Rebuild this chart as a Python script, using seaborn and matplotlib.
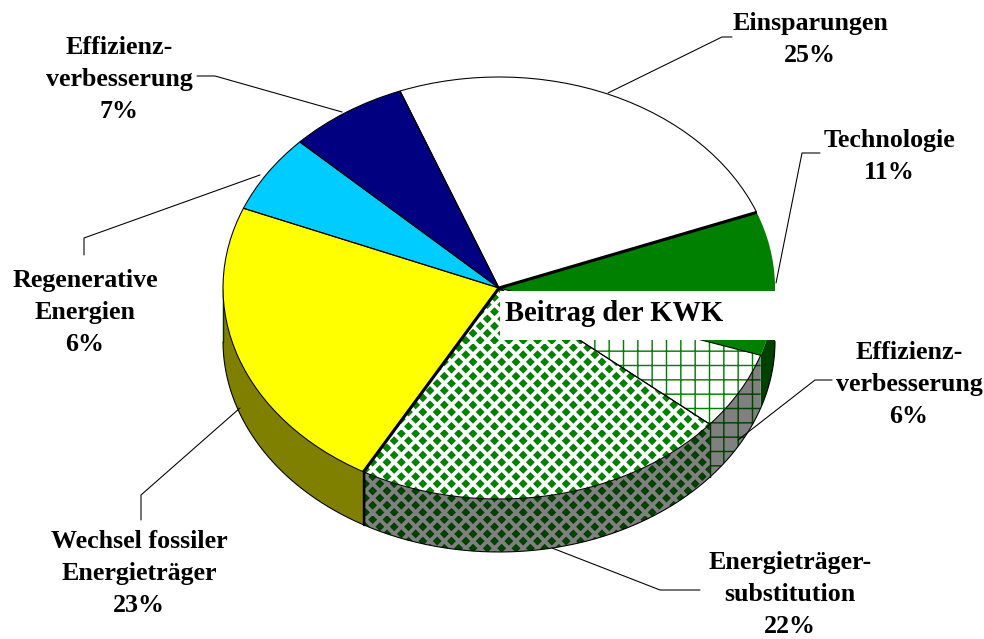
import warnings
import numpy as np
import matplotlib
matplotlib.use('Agg')
import matplotlib.pyplot as plt
from matplotlib import hatch as mhatch
from matplotlib.path import Path
from matplotlib.patches import Rectangle
import seaborn as sns

warnings.filterwarnings('ignore')

labels = ['Einsparungen', 'Technologie', 'Effizienz-\nverbesserung', 'Energieträger-\nsubstitution',
          'Wechsel fossiler\nEnergieträger', 'Regenerative\nEnergien', 'Effizienz-\nverbesserung']
values = [25, 11, 6, 22, 23, 6, 7]
top_colors = ['#FFFFFF', '#008000', '#FFFFFF', '#FFFFFF', '#FFFF00', '#00CCFF', '#000080']
side_colors = ['#808080', '#004000', '#808080', '#808080', '#808000', '#006680', '#000040']
top_hatch = [None, None, '+', 'd', None, None, None]
top_hatch_color = ['none', 'none', '#008000', '#008000', 'none', 'none', 'none']
side_hatch_color = ['none', 'none', '#004000', '#004000', 'none', 'none', 'none']
band_title = 'Beitrag der KWK'


# checker pattern of small diamonds, matplotlib has no such hatch
class DiamondHatch(mhatch.HatchPatternBase):
    def __init__(self, hatch, density):
        self.on = 'd' in hatch
        self.n = density
        self.num_vertices = (self.n * self.n + self.n * (self.n + 1)) * 5 if self.on else 0

    def set_vertices_and_codes(self, vertices, codes):
        if not self.on:
            return
        s = 0.040
        diamond = np.array([[0, -s], [s, 0], [0, s], [-s, 0], [0, -s]])
        k = 0
        for r in range(2 * self.n):
            y = (r + 0.5) / (2 * self.n)
            if r % 2 == 0:
                xs = (np.arange(self.n) + 0.5) / self.n
            else:
                xs = np.arange(self.n + 1) / self.n
            for x in xs:
                vertices[k:k + 5] = diamond + [x, y]
                codes[k:k + 5] = [Path.MOVETO, Path.LINETO, Path.LINETO, Path.LINETO, Path.CLOSEPOLY]
                k += 5


mhatch._hatch_types.append(DiamondHatch)

sns.set_theme(style='white')
plt.rcParams['font.family'] = ['Liberation Serif', 'DejaVu Serif']
plt.rcParams['hatch.linewidth'] = 1.2

DPI = 86
W, H = 984, 639
fig = plt.figure(figsize=((W + 0.01) / DPI, (H + 0.01) / DPI), dpi=DPI, facecolor='white')

# pie centre and radii in pixels
CX, CY, RX, RY = 499, 288, 276, 211
DEPTH = 53 / RY

ax = fig.add_axes([0, 0, 1, 1])
start = 111.0
palette = sns.color_palette(top_colors)
wedges, _ = ax.pie(values, colors=palette, startangle=start, counterclock=False, radius=1,
                   wedgeprops={'linewidth': 0, 'zorder': 3})
for w, h, c in zip(wedges, top_hatch, top_hatch_color):
    if h:
        w.set_edgecolor(c)
        w.set_hatch(h)

outline, _ = ax.pie(values, startangle=start, counterclock=False, radius=1,
                    wedgeprops={'fill': False, 'edgecolor': 'black', 'linewidth': 0.9, 'zorder': 4})
outline[1].set_edgecolor('none')

# side wall under the front of the pie
for w, c, h, hc in zip(wedges, side_colors, top_hatch, side_hatch_color):
    t = np.linspace(w.theta1, w.theta2, 200)
    t = t[np.sin(np.radians(t)) <= 0]
    if len(t) == 0:
        continue
    x = np.cos(np.radians(t))
    y = np.sin(np.radians(t))
    ax.fill(np.r_[x, x[::-1]], np.r_[y, y[::-1] - DEPTH], facecolor=c,
            edgecolor=hc if h else 'none', hatch=h, linewidth=0, zorder=2)
    ax.plot(x, y - DEPTH, color='black', lw=0.9, zorder=2.5)
    if c != side_colors[1]:
        ax.plot([x[0], x[0]], [y[0], y[0] - DEPTH], color='#003000', lw=1.2, zorder=2.5)

# thick seams
seam_a = np.radians(wedges[0].theta1)
seam_b = np.radians(wedges[3].theta1)
ax.plot([0, np.cos(seam_a)], [0, np.sin(seam_a)], color='black', lw=2.6, zorder=5, solid_capstyle='butt')
ax.plot([0, np.cos(seam_b)], [0, np.sin(seam_b)], color='black', lw=2.6, zorder=5, solid_capstyle='butt')
ax.plot([np.cos(seam_b)] * 2, [np.sin(seam_b), np.sin(seam_b) - DEPTH], color='black', lw=2.0, zorder=5)

ax.set_aspect('auto')
ax.set_xlim(-CX / RX, (W - CX) / RX)
ax.set_ylim((CY - H) / RY, CY / RY)
ax.axis('off')

# overlay in pixels for band, leader lines and labels
ov = fig.add_axes([0, 0, 1, 1], zorder=10)
ov.patch.set_alpha(0)
ov.set_xlim(0, W)
ov.set_ylim(H, 0)
ov.axis('off')

ov.add_patch(Rectangle((500, 291), 280, 49, facecolor='white', edgecolor='none'))
ov.text(505, 313, band_title, fontsize=23.9, fontweight='bold', color='black', ha='left', va='center')

leaders = [
    ([608, 722, 732], [93, 37, 37]),
    ([776, 802, 820], [283, 153, 153]),
    ([738, 815, 832], [440, 380, 380]),
    ([552, 660, 700], [548, 590, 590]),
    ([240, 141, 141], [408, 495, 520]),
    ([260, 84, 84], [175, 238, 255]),
    ([342, 215, 197], [112, 76, 76]),
]
for lx, ly in leaders:
    ov.plot(lx, ly, color='black', lw=0.9)

label_x = [810, 889, 909, 790, 139, 85, 119]
label_y = [39, 156, 384, 594, 573, 312, 79]
for name, v, x, y in zip(labels, values, label_x, label_y):
    ov.text(x, y, f'{name}\n{v}%', fontsize=21.8, fontweight='bold', color='black',
            ha='center', va='center', linespacing=1.5)

fig.savefig('out.png', dpi=DPI, facecolor='white')
